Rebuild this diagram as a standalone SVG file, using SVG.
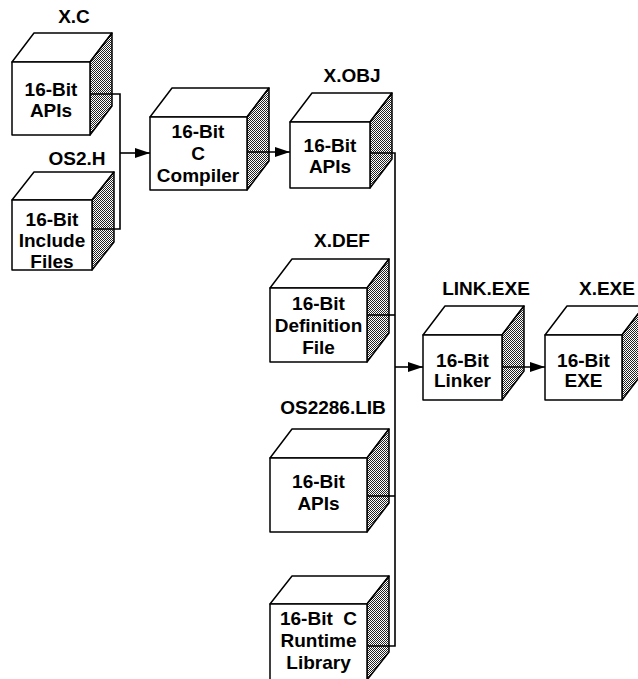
<svg xmlns="http://www.w3.org/2000/svg" width="638" height="679" viewBox="0 0 638 679">
<defs>
<pattern id="dots" patternUnits="userSpaceOnUse" width="2" height="2">
<rect width="2" height="2" fill="#fff"/>
<rect x="0" y="0" width="1" height="1" fill="#222"/>
<rect x="1" y="1" width="1" height="1" fill="#222"/>
</pattern>
<marker id="arr" markerUnits="userSpaceOnUse" markerWidth="16" markerHeight="12" refX="15" refY="5" orient="auto">
<path d="M0,0 L15,5 L0,10 z" fill="#000"/>
</marker>
</defs>
<style>
.f{fill:#fff;stroke:#000;stroke-width:1.5;stroke-linejoin:round}
.s{fill:url(#dots);stroke:#000;stroke-width:1.5;stroke-linejoin:round}
.t{font-family:"Liberation Sans",Arial,sans-serif;font-weight:bold;font-size:19px;text-anchor:middle;fill:#000}
.c{fill:none;stroke:#000;stroke-width:1.6}
</style>
<rect width="638" height="679" fill="#fff"/>

<g id="xc">
<text class="t" x="74" y="23">X.C</text>
<polygon class="f" points="12,62 34,33 112,33 90,62"/>
<polygon class="s" points="90,62 112,33 112,106 90,135"/>
<rect class="f" x="12" y="62" width="78" height="73"/>
<text class="t" x="51" y="96">16-Bit</text>
<text class="t" x="51" y="117">APIs</text>
</g>

<g id="os2h">
<text class="t" x="77" y="165">OS2.H</text>
<polygon class="f" points="12,200 34,172 114,172 92,200"/>
<polygon class="s" points="92,200 114,172 114,242 92,270"/>
<rect class="f" x="12" y="200" width="80" height="70"/>
<text class="t" x="52" y="226">16-Bit</text>
<text class="t" x="52" y="247">Include</text>
<text class="t" x="52" y="268">Files</text>
</g>

<g id="compiler">
<polygon class="f" points="150,117 172,88 269,88 247,117"/>
<polygon class="s" points="247,117 269,88 269,161 247,190"/>
<rect class="f" x="150" y="117" width="97" height="73"/>
<text class="t" x="198" y="138">16-Bit</text>
<text class="t" x="198" y="160">C</text>
<text class="t" x="198" y="182">Compiler</text>
</g>

<g id="xobj">
<text class="t" x="352" y="82">X.OBJ</text>
<polygon class="f" points="290,122 312,93 392,93 370,122"/>
<polygon class="s" points="370,122 392,93 392,159 370,188"/>
<rect class="f" x="290" y="122" width="80" height="66"/>
<text class="t" x="330" y="152">16-Bit</text>
<text class="t" x="330" y="173">APIs</text>
</g>

<g id="xdef">
<text class="t" x="342" y="247">X.DEF</text>
<polygon class="f" points="270,288 292,259 389,259 367,288"/>
<polygon class="s" points="367,288 389,259 389,333 367,362"/>
<rect class="f" x="270" y="288" width="97" height="74"/>
<text class="t" x="318.5" y="310">16-Bit</text>
<text class="t" x="318.5" y="332">Definition</text>
<text class="t" x="318.5" y="354">File</text>
</g>

<g id="os2286">
<text class="t" x="333" y="414">OS2286.LIB</text>
<polygon class="f" points="270,458 292,429 389,429 367,458"/>
<polygon class="s" points="367,458 389,429 389,503 367,532"/>
<rect class="f" x="270" y="458" width="97" height="74"/>
<text class="t" x="318.5" y="488">16-Bit</text>
<text class="t" x="318.5" y="510">APIs</text>
</g>

<g id="runtime">
<polygon class="f" points="270,604 292,576 389,576 367,604"/>
<polygon class="s" points="367,604 389,576 389,652 367,680"/>
<rect class="f" x="270" y="604" width="97" height="76"/>
<text class="t" x="318.5" y="625" xml:space="preserve">16-Bit  C</text>
<text class="t" x="318.5" y="647">Runtime</text>
<text class="t" x="318.5" y="669">Library</text>
</g>

<g id="linker">
<text class="t" x="486" y="295">LINK.EXE</text>
<polygon class="f" points="423,335 445,306 524,306 502,335"/>
<polygon class="s" points="502,335 524,306 524,371 502,400"/>
<rect class="f" x="423" y="335" width="79" height="65"/>
<text class="t" x="462.5" y="367">16-Bit</text>
<text class="t" x="462.5" y="387">Linker</text>
</g>

<g id="xexe">
<text class="t" x="607" y="295">X.EXE</text>
<polygon class="f" points="545,335 567,306 644,306 622,335"/>
<polygon class="s" points="622,335 644,306 644,371 622,400"/>
<rect class="f" x="545" y="335" width="77" height="65"/>
<text class="t" x="583.5" y="367">16-Bit</text>
<text class="t" x="583.5" y="387">EXE</text>
</g>

<g id="connectors">
<polyline class="c" points="90,94 120,94 120,229 92,229"/>
<line class="c" x1="120" y1="153" x2="150" y2="153" marker-end="url(#arr)"/>
<line class="c" x1="247" y1="152" x2="290" y2="152" marker-end="url(#arr)"/>
<polyline class="c" points="370,153 395,153 395,646 367,646"/>
<line class="c" x1="367" y1="315" x2="395" y2="315"/>
<line class="c" x1="367" y1="496" x2="395" y2="496"/>
<line class="c" x1="395" y1="367" x2="423" y2="367" marker-end="url(#arr)"/>
<line class="c" x1="502" y1="367" x2="545" y2="367" marker-end="url(#arr)"/>
</g>
</svg>
